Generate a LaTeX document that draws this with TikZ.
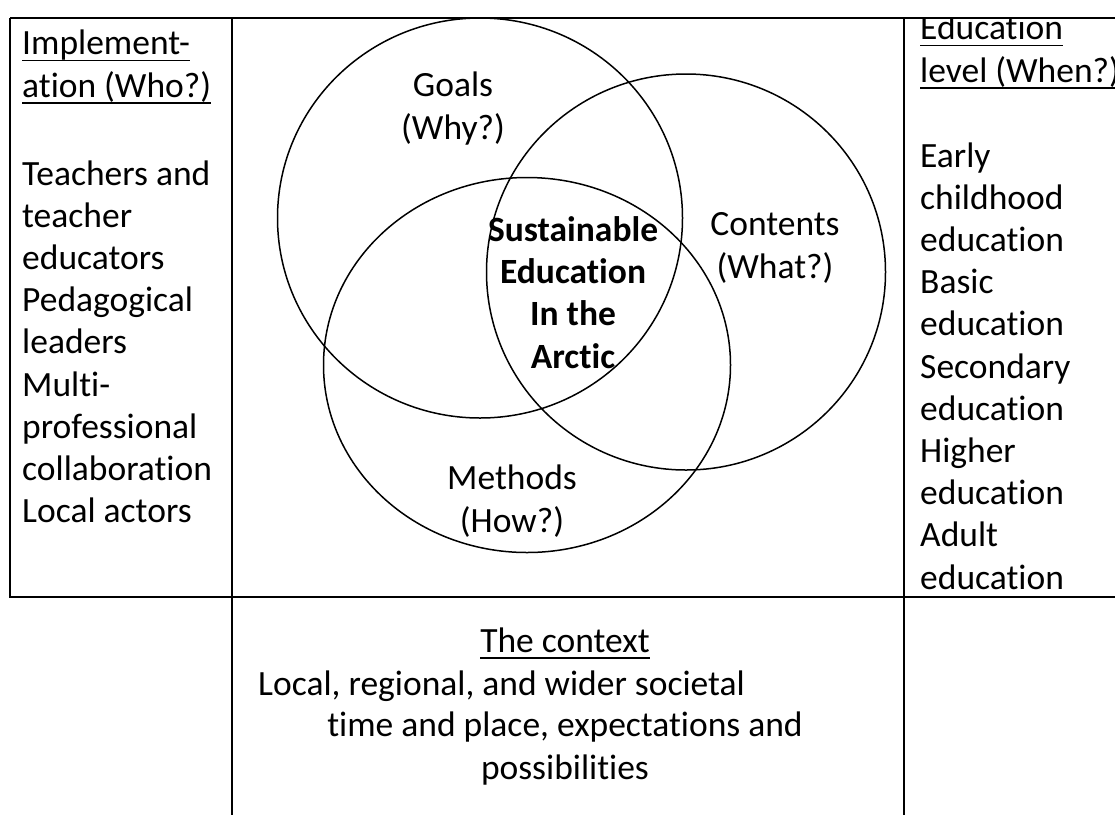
\documentclass[tikz,border=0pt]{standalone}
\usepackage{fontspec}
\setmainfont{Carlito}[Ligatures=NoCommon]
\usetikzlibrary{shapes.geometric}
\newcommand{\undr}[1]{\setbox0\hbox{#1}\rlap{\rule[-6.5pt]{\wd0}{1.4pt}}\box0}

\begin{document}
\begin{tikzpicture}[x=1pt,y=-1pt,
frame/.style={line width=1.6pt},
heavy/.style={line width=2.8pt},
ring/.style={ellipse,draw,line width=1.5pt,inner sep=0pt},
txt/.style={font=\fontsize{35.5}{42.2}\selectfont,inner sep=0pt},
boldtxt/.style={font=\fontsize{35.5}{42.2}\selectfont\bfseries,inner sep=0pt,align=center,anchor=base},
col/.style={txt,align=left,anchor=base west},
lbl/.style={txt,align=center,anchor=base}]
\useasboundingbox[fill=white] (0,0) rectangle (1115,815);
\node[ring,minimum width=405pt,minimum height=400pt] (goals) at (480,218) {};
\node[ring,minimum width=399pt,minimum height=396pt] (contents) at (686,272) {};
\node[ring,minimum width=407pt,minimum height=375pt] (methods) at (527,365) {};
\draw[frame] (10,18) -- (1115,18);
\draw[frame] (10,18) -- (10,597) -- (232,597);
\draw[heavy] (232,18) -- (232,597) -- (904,597);
\draw[frame] (904,597) -- (1115,597);
\draw[frame] (232,597) -- (232,815);
\draw[frame] (904,18) -- (904,815);
\node[col] (who) at (22,97) {\undr{Implement-}\\\undr{ation (Who?)}};
\node[col] (whoList) at (22,522.6) {Teachers and\\teacher\\educators\\Pedagogical\\leaders\\Multi-\\professional\\collaboration\\Local actors};
\begin{scope}
\clip (905,19) rectangle (1115,596);
\node[col] (when) at (920,82) {\undr{Education}\\\undr{level (When?)}};
\node[col] (whenList) at (920,589) {Early\\childhood\\education\\Basic\\education\\Secondary\\education\\Higher\\education\\Adult\\education};
\end{scope}
\node[lbl] (goalsT) at (453,139) {Goals\\(Why?)};
\node[lbl] (contentsT) at (775,278) {Contents\\(What?)};
\node[lbl] (methodsT) at (512,532) {Methods\\(How?)};
\node[boldtxt] (core) at (573,368) {Sustainable\\Education\\In the\\Arctic};
\node[lbl] (ctx) at (565,652) {\undr{The context}};
\node[txt,anchor=base west] (ctxA) at (258,695) {Local, regional, and wider societal};
\node[lbl] (ctxB) at (565,779) {time and place, expectations and\\possibilities};
\end{tikzpicture}
\end{document}
